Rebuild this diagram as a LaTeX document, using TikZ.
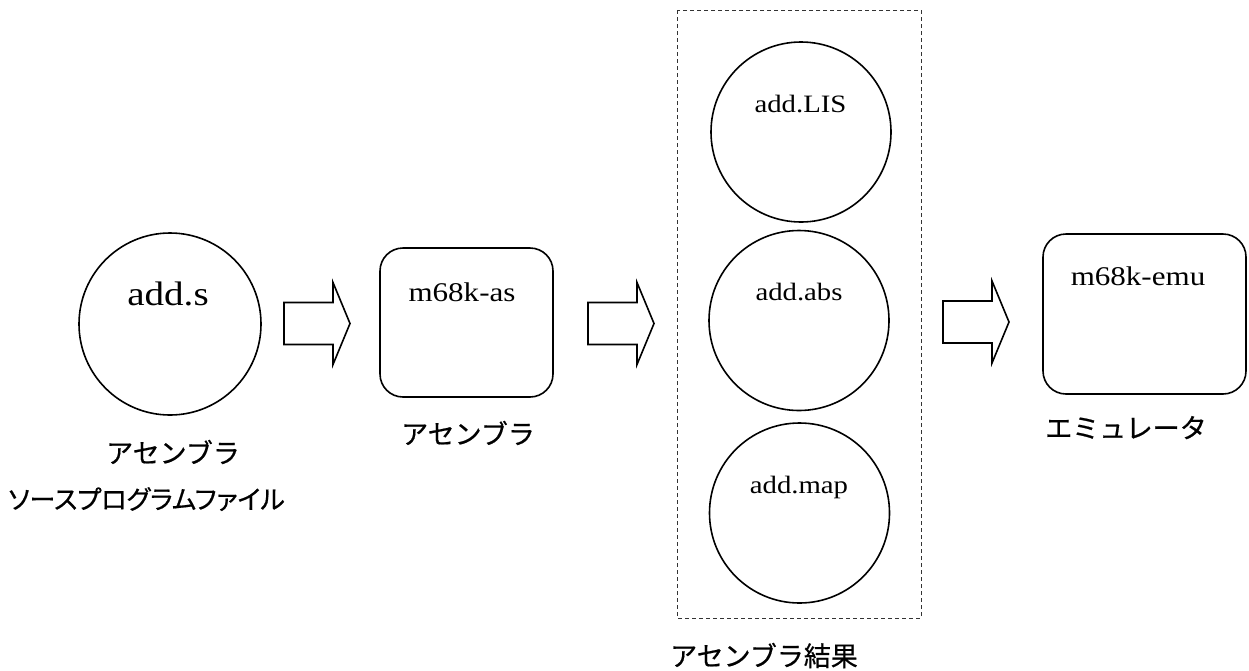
\documentclass[tikz,border=0pt]{standalone}
\usepackage{fontspec}
\setmainfont{Liberation Serif}[FakeStretch=1.15]
\newfontfamily\jp{Noto Sans CJK JP}[FakeBold=0.6]
\newfontfamily\jpp{Noto Sans CJK JP}[FakeBold=0.6,RawFeature=+palt]
\begin{document}
\begin{tikzpicture}[x=1pt,y=-1pt,
  shapeline/.style={draw=black, line width=1.6pt},
  circ/.style={shapeline, circle, minimum size=180pt, inner sep=0pt},
  rbox/.style={shapeline, rounded corners=23pt},
  group/.style={draw=black!80, line width=1pt, dash pattern=on 4pt off 3pt},
  fname/.style={font=\fontsize{25}{30}\selectfont, anchor=base, inner sep=0pt},
  jlabel/.style={font=\jp\fontsize{27}{32}\selectfont, anchor=base, inner sep=0pt},
  barrow/.pic={\draw[shapeline, line join=miter]
     (0,-21)--(49,-21)--(49,-41)--(66,0)--(49,41)--(49,21)--(0,21)--cycle;}
]
\useasboundingbox (0,0) rectangle (1249,670);

% source circle
\node[circ, minimum size=182pt] (src) at (170,324) {};
\node[fname, font=\fontsize{34}{40}\selectfont] (srctxt) at (168,305) {add.s};
\node[jlabel] (srcl1) at (173,463) {アセンブラ};
\node[jlabel, font=\jpp\fontsize{26}{31}\selectfont] (srcl2) at (146.5,509) {ソースプログラムファイル};

% arrow 1
\pic at (284,323.5) {barrow};

% assembler box
\draw[rbox] (380,248) rectangle (553,397);
\coordinate (asm) at (466.5,322.5);
\node[fname, font=\fontsize{27}{32}\selectfont] (asmtxt) at (462,301) {m68k-as};
\node[jlabel] (asml) at (468,444) {アセンブラ};

% arrow 2
\pic at (588,323.5) {barrow};

% result group
\draw[group] (677,10) rectangle (921,618);
\node[circ] (lis) at (801,132) {};
\node[fname] (listxt) at (800.5,112) {add.LIS};
\node[circ] (abs) at (799,320.5) {};
\node[fname] (abstxt) at (799,300) {add.abs};
\node[circ] (map) at (799.5,513) {};
\node[fname] (maptxt) at (799,493) {add.map};
\node[jlabel] (resl) at (764,666) {アセンブラ結果};

% arrow 3
\pic at (943,322) {barrow};

% emulator box
\draw[rbox] (1043,234) rectangle (1246,394);
\node[fname, font=\fontsize{27}{32}\selectfont] (emutxt) at (1138,285.5) {m68k-emu};
\node[jlabel] (emul) at (1126,438) {エミュレータ};
\end{tikzpicture}
\end{document}
